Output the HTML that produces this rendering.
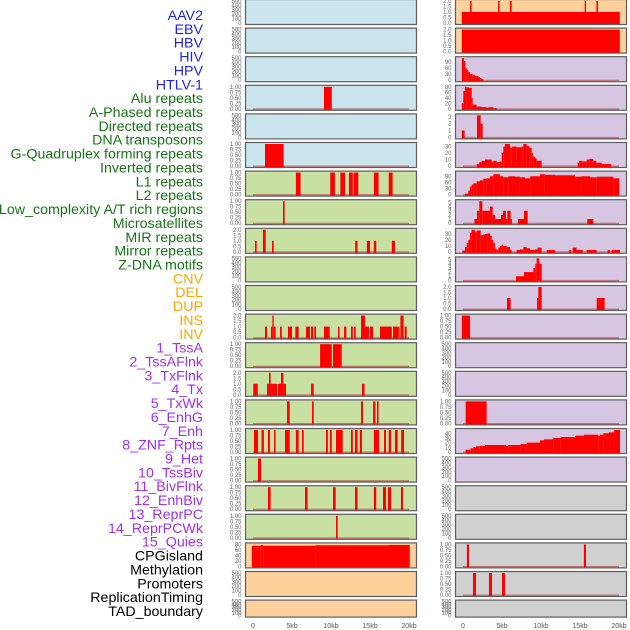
<!DOCTYPE html>
<html><head><meta charset="utf-8"><style>
html,body{margin:0;padding:0;background:#fff;width:630px;height:630px;overflow:hidden}
svg{display:block;font-family:"Liberation Sans",sans-serif}
</style></head><body>
<svg id="chart" width="630" height="630" viewBox="0 0 630 630" xmlns="http://www.w3.org/2000/svg"></svg>
<script>
// ---- data ----
const trackNames = ["AAV2","EBV","HBV","HIV","HPV","HTLV-1","Alu repeats","A-Phased repeats","Directed repeats","DNA transposons","G-Quadruplex forming repeats","Inverted repeats","L1 repeats","L2 repeats","Low_complexity A/T rich regions","Microsatellites","MIR repeats","Mirror repeats","Z-DNA motifs","CNV","DEL","DUP","INS","INV","1_TssA","2_TssAFlnk","3_TxFlnk","4_Tx","5_TxWk","6_EnhG","7_Enh","8_ZNF_Rpts","9_Het","10_TssBiv","11_BivFlnk","12_EnhBiv","13_ReprPC","14_ReprPCWk","15_Quies","CPGisland","Methylation","Promoters","ReplicationTiming","TAD_boundary"];
const trackGroups = ["v","v","v","v","v","v","r","r","r","r","r","r","r","r","r","r","r","r","r","s","s","s","s","s","c","c","c","c","c","c","c","c","c","c","c","c","c","c","c","o","o","o","o","o"];
const xTickValues = [0,5,10,15,20];
const xTickLabels = ["0","5kb","10kb","15kb","20kb"];

// bars: [startKb, endKb, value]
const bars_L4 = [[9.1,10.1,1]];
const bars_L6 = [[1.54,3.93,1]];
const bars_L7 = [[5.5,6.1,1],[9.9,10.5,1],[11.2,11.8,1],[12.3,12.8,1],[12.9,13.5,1],[15.5,16.1,1],[17.4,17.9,1]];
const bars_L8 = [[3.85,4.06,1]];
const bars_L9 = [[0.26,0.47,1],[1.28,1.62,2],[2.44,2.65,1],[13.1,13.4,1],[14.6,15.0,1],[15.5,15.8,1],[17.8,18.2,1]];
const bars_L12 = [[1.54,1.8,1],[2.3,2.48,1],[2.48,2.65,2],[2.65,2.9,1],[3.46,3.68,1],[4.49,5.0,1],[5.43,5.85,1],[6.8,7.3,1],[7.44,7.74,1],[7.86,8.08,1],[9.1,9.83,1],[10.9,11.1,1],[11.67,11.97,1],[12.56,12.8,1],[12.95,13.16,1],[13.85,14.36,2],[14.36,14.87,1],[15.0,15.4,1],[16.28,17.8,1],[17.95,18.76,1],[18.9,19.3,2],[19.44,19.7,1]];
const bars_L13 = [[8.6,10.1,1],[10.26,11.37,1]];
const bars_L14 = [[0.04,0.6,1],[1.8,2.05,1],[2.05,2.26,2],[2.26,3.08,1],[3.2,3.59,1],[3.59,3.89,2],[3.89,4.23,1],[7.44,7.78,1],[13.97,14.3,1]];
const bars_L15 = [[4.36,4.7,1],[7.56,7.78,1],[13.85,14.1,1],[15.4,15.7,1],[15.9,16.1,1]];
const bars_L16 = [[0.13,0.64,1],[1.1,1.4,1],[1.92,2.18,1],[2.7,2.9,1],[4.1,4.7,1],[5.5,5.85,1],[6.28,6.5,1],[9.36,9.6,1],[9.87,10.1,1],[10.64,11.5,1],[12.56,12.8,1],[13.08,13.4,1],[13.7,13.97,1],[15.5,16.15,1],[16.8,17.05,1],[17.4,17.7,1],[18.2,18.55,1],[19.0,19.36,1]];
const bars_L17 = [[0.64,1.03,1]];
const bars_L18 = [[1.92,2.26,1],[6.67,7.0,1],[10.26,10.6,1],[13.08,13.4,1],[15.5,15.8,1],[16.67,17.05,1],[17.3,17.7,1],[18.97,19.23,1]];
const bars_L19 = [[10.64,10.85,1]];
const bars_L20 = [[-0.15,1,75],[1,1.3,78],[1.3,8,75],[8,17.5,77],[17.5,20.1,78]];
const bars_R1 = [[-0.15,20.1,1],[0.9,1.1,2],[4.5,4.7,2],[6.0,6.24,2],[15.6,15.77,2],[17.1,17.3,2]];
const bars_R2 = [[-0.15,20.1,2]];
const bars_R3 = [[-0.15,0.13,108],[0.13,0.3,95],[0.3,0.47,60],[0.47,0.68,50],[0.68,0.9,40],[0.9,1.24,30],[1.24,1.54,25],[1.54,1.97,20],[1.97,2.18,15],[2.18,2.39,10],[2.39,2.6,5]];
const bars_R4 = [[-0.15,0.04,20],[0.04,0.26,65],[0.26,0.47,80],[0.47,0.81,78],[0.81,1.11,76],[1.11,1.24,40],[1.24,1.75,15],[1.75,2.39,8],[2.39,3.03,6],[3.03,3.25,4],[3.25,3.89,6],[3.89,4.32,2]];
const bars_R5 = [[-0.15,0.21,1],[1.79,2.26,3.2],[2.26,2.52,2]];
const bars_R6 = [[1.75,2.09,3],[2.09,2.39,6],[2.39,2.82,8],[2.82,3.68,10],[3.68,3.89,7],[3.89,4.32,8],[4.32,4.74,6],[4.74,4.96,7],[4.96,5.17,20],[5.17,5.38,30],[5.38,6.03,34],[6.03,6.24,28],[6.24,6.88,30],[6.88,7.52,29],[7.52,7.74,30],[7.74,8.16,34],[8.16,8.5,31],[8.5,8.8,28],[8.8,9.0,20],[9.0,9.23,14],[9.23,9.44,12],[9.44,10.09,8],[14.7,14.9,5],[14.9,15.34,8],[15.34,15.85,7],[15.85,16.2,10],[16.2,16.7,11],[16.7,17.1,8],[17.1,17.8,5],[17.8,19.0,3]];
const bars_R7 = [[0.26,0.68,5],[0.68,0.9,20],[0.9,1.11,40],[1.11,1.32,50],[1.32,1.75,55],[1.75,2.18,65],[2.18,2.6,70],[2.6,3.03,78],[3.03,3.46,80],[3.46,3.89,90],[3.89,4.74,100],[4.74,5.17,90],[5.17,5.81,85],[5.81,6.67,90],[6.67,7.3,88],[7.3,7.95,85],[7.95,8.6,80],[8.6,9.87,90],[9.87,10.5,100],[10.5,11.8,97],[11.8,14.36,95],[14.36,15.2,88],[15.2,16.28,90],[16.28,17.14,85],[17.14,19.27,88],[19.27,20.04,80]];
const bars_R8 = [[1.45,1.79,1],[1.79,2.09,3],[2.09,2.48,5.3],[2.48,3.46,3],[3.46,3.8,4],[3.8,4.1,2],[4.1,4.87,1],[4.87,5.13,2],[5.13,5.51,3],[5.51,5.68,1],[5.68,6.11,3],[6.11,6.28,1],[7.05,7.82,1],[7.82,8.29,3],[15.94,16.7,1]];
const bars_R9 = [[-0.09,0.26,2],[0.26,0.47,8],[0.47,0.68,15],[0.68,0.9,20],[0.9,1.11,32],[1.11,1.54,37],[1.54,1.75,33],[1.75,2.26,36],[2.26,2.6,28],[2.6,2.82,29],[2.82,3.12,30],[3.12,3.46,31],[3.46,3.68,27],[3.68,3.89,20],[3.89,4.1,15],[4.1,4.32,5],[4.32,4.53,3],[4.53,4.74,7],[4.74,4.96,10],[4.96,5.17,12],[5.17,5.6,10],[5.6,6.03,8],[6.03,6.24,3],[6.88,7.31,3],[7.31,7.74,4],[7.74,8.16,8],[8.16,8.59,6],[8.59,9.23,3],[9.23,9.57,4],[9.57,10.09,7],[10.73,11.8,3],[13.6,13.85,3],[14.06,14.57,7],[14.57,15.34,3],[15.85,17.14,3],[18.55,18.85,3],[19.06,20.13,3]];
const bars_R10 = [[6.8,7.82,1],[7.82,9.02,2],[9.02,9.27,3],[9.27,9.44,4],[9.44,9.79,5.3],[9.79,10.09,4]];
const bars_R11 = [[5.64,6.11,1],[9.49,9.66,1],[9.66,10.09,2],[17.14,18.16,1]];
const bars_R12 = [[-0.15,0.9,1]];
const bars_R15 = [[0.34,3.03,1]];
const bars_R16 = [[0.34,0.98,5],[0.98,1.32,8],[1.32,1.67,10],[1.67,2.09,12],[2.09,2.82,13],[2.82,5.51,15],[5.51,5.81,13],[5.81,7.39,15],[7.39,8.16,17],[8.16,9.87,20],[9.87,10.38,25],[10.38,11.58,27],[11.58,12.52,30],[12.52,14.36,32],[14.36,15.51,35],[15.51,17.35,37],[17.35,17.56,35],[17.56,17.99,37],[17.99,18.72,40],[18.72,19.36,42],[19.36,20.13,47]];
const bars_R20 = [[0.5,0.77,1],[15.5,15.77,1]];
const bars_R21 = [[1.28,1.67,1],[3.33,3.72,1],[5.0,5.38,1]];

const ticksEmpty = [0,100,200,300,400,500];
const ticksUnit = [0,0.25,0.5,0.75,1];
const ticksTwo = [0,0.5,1,1.5,2];

// panel specs: [bg, ticks, ymax, decimals, bars]
const E=null;
const leftPanels = [
 ["b",ticksEmpty,500,0,E],["b",ticksEmpty,500,0,E],["b",ticksEmpty,500,0,E],["b",ticksUnit,1,2,bars_L4],["b",ticksEmpty,500,0,E],["b",ticksUnit,1,2,bars_L6],
 ["g",ticksUnit,1,2,bars_L7],["g",ticksUnit,1,2,bars_L8],["g",ticksTwo,2,1,bars_L9],["g",ticksEmpty,500,0,E],["g",ticksEmpty,500,0,E],["g",ticksTwo,2,1,bars_L12],["g",ticksUnit,1,2,bars_L13],["g",ticksTwo,2,1,bars_L14],["g",ticksUnit,1,2,bars_L15],["g",ticksUnit,1,2,bars_L16],["g",ticksUnit,1,2,bars_L17],["g",ticksUnit,1,2,bars_L18],["g",ticksUnit,1,2,bars_L19],
 ["o",[0,20,40,60,80],80,0,bars_L20],["o",ticksEmpty,500,0,E],["o",ticksEmpty,500,0,E]
];
const rightPanels = [
 ["o",ticksTwo,2,1,bars_R1],["o",ticksTwo,2,1,bars_R2],
 ["p",[0,30,60,90],108,0,bars_R3],["p",[0,20,40,60,80],80,0,bars_R4],["p",[0,1,2,3],3.2,0,bars_R5],["p",[0,10,20,30],34,0,bars_R6],["p",[0,30,60,90],108,0,bars_R7],["p",[0,1,2,3,4,5],5.3,0,bars_R8],["p",[0,10,20,30],37,0,bars_R9],["p",[0,1,2,3,4,5],5.3,0,bars_R10],["p",ticksTwo,2,1,bars_R11],["p",ticksUnit,1,2,bars_R12],["p",ticksEmpty,500,0,E],["p",ticksEmpty,500,0,E],["p",ticksUnit,1,2,bars_R15],["p",[0,10,20,30,40],47,0,bars_R16],["p",ticksEmpty,500,0,E],
 ["k",ticksEmpty,500,0,E],["k",ticksEmpty,500,0,E],["k",ticksUnit,1,2,bars_R20],["k",ticksUnit,1,2,bars_R21],["k",ticksEmpty,500,0,E]
];

// ---- rendering ----
const NS="http://www.w3.org/2000/svg";
const svg=document.getElementById('chart');
const bgColors={b:"#c9e4ec",g:"#c8e0a2",o:"#fdd09c",p:"#d6c6e2",k:"#d0d0d0"};
const labelColors={v:"#1f1ff2",r:"#177517",s:"#ffa500",c:"#a030f0",o:"#000000"};
function mk(tag,attrs,parent){const e=document.createElementNS(NS,tag);for(const k in attrs)e.setAttribute(k,attrs[k]);(parent||svg).appendChild(e);return e;}

// left labels
trackNames.forEach((n,i)=>{
  const t=mk('text',{x:203,y:15+13.86*i+5,'text-anchor':'end','font-size':'14.25',fill:labelColors[trackGroups[i]]});
  
  
  t.textContent=n;
});

function drawColumn(panels,px0,dataX0,col){
  const kbScale=7.8;
  const xs=kb=>dataX0+kb*kbScale;
  panels.forEach((p,i)=>{
    const [bg,ticks,ymax,dec,bars]=p;
    const top=28.6*i-0.5;
    const h=(i===21)?17:25;
    const g=mk('g',{});
    
    
    const r=mk('rect',{x:px0,y:top,width:171,height:h,fill:bgColors[bg],stroke:'#5e5e5e','stroke-width':1.2},g);
    
    
    const y0=top+h-1.5, ys=v=>y0-v/ymax*(h-3);
    ticks.forEach(v=>{
      const t=mk('text',{x:px0-4,y:ys(v)+2,'text-anchor':'end','font-size':'6',fill:'#666'},g);
      
      
      t.textContent=dec?v.toFixed(dec):String(v);
    });
    if(bars){
      const bl=mk('rect',{x:xs(0),y:y0-0.5,width:20*kbScale,height:1.6,fill:'#b04040','fill-opacity':0.6},g);
      
      
      bars.forEach(b=>{
        const v=Math.min(b[2],ymax*1.02);
        const yt=ys(v);
        const rr=mk('rect',{x:xs(b[0]),y:yt,width:Math.max(0.8,(b[1]-b[0])*kbScale),height:Math.max(0,y0+1-yt),fill:'#ff0000'},g);
        
        
      });
    }
  });
  xTickValues.forEach((v,k)=>{
    const t=mk('text',{x:xs(v),y:628,'text-anchor':'middle','font-size':'7',fill:'#555'});
    
    
    t.textContent=xTickLabels[k];
  });
}
drawColumn(leftPanels,245.5,253,'left');
drawColumn(rightPanels,455.5,463,'right');
</script>
</body></html>
